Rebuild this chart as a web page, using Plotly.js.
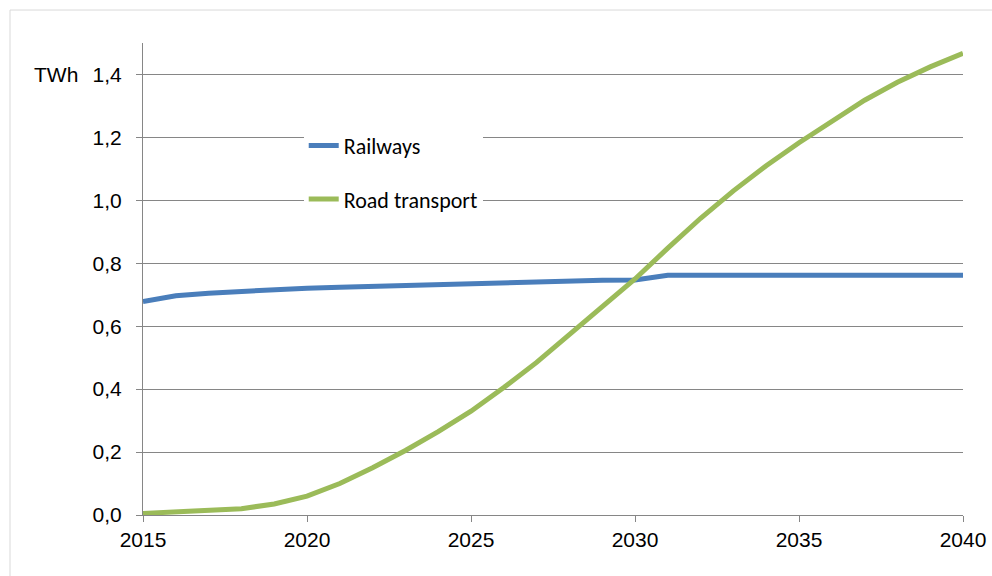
<!DOCTYPE html>
<html>
<head>
<meta charset="utf-8">
<script src="https://cdn.plot.ly/plotly-3.0.1.min.js"></script>
<style>
html,body{margin:0;padding:0;background:#fff;overflow:hidden;}
#chart{width:992px;height:576px;}
</style>
</head>
<body>
<div id="chart"></div>
<script>
const years = [2015,2016,2017,2018,2019,2020,2021,2022,2023,2024,2025,2026,2027,2028,2029,2030,2031,2032,2033,2034,2035,2036,2037,2038,2039,2040];
const railways = [0.678,0.697,0.705,0.711,0.717,0.721,0.724,0.727,0.731,0.734,0.737,0.740,0.742,0.744,0.746,0.747,0.762,0.762,0.762,0.762,0.762,0.762,0.762,0.762,0.762,0.762];
const roadTransport = [0.005,0.010,0.013,0.020,0.035,0.060,0.100,0.150,0.205,0.265,0.330,0.405,0.485,0.572,0.660,0.750,0.848,0.943,1.030,1.110,1.183,1.252,1.318,1.375,1.424,1.467];
const xTicks = [2015,2020,2025,2030,2035,2040];
const yTicks = [0,0.2,0.4,0.6,0.8,1.0,1.2,1.4];
const yTickLabels = ['0,0','0,2','0,4','0,6','0,8','1,0','1,2','1,4'];
const seriesNames = ['Railways','Road transport'];
const seriesColors = ['#4a7ebb','#9bbb59'];
const unitLabel = 'TWh';

const traces = [
  {x: years, y: railways, name: seriesNames[0], type:'scatter', mode:'lines',
   line:{color:seriesColors[0], width:5}, legendgroup:'a'},
  {x: years, y: roadTransport, name: seriesNames[1], type:'scatter', mode:'lines',
   line:{color:seriesColors[1], width:5}, legendgroup:'b'}
];

const gridC = '#868686';
const layout = {
  width:992, height:576,
  margin:{l:143, r:29, t:42.5, b:61, pad:0},
  paper_bgcolor:'#ffffff', plot_bgcolor:'#ffffff',
  showlegend:true,
  legend:{x:0.196, xanchor:'left', y:0.827, yanchor:'top', bgcolor:'#ffffff',
    traceorder:'grouped', tracegroupgap:22, entrywidth:230, entrywidthmode:'pixels',
    font:{family:'Carlito, Calibri, Lato, sans-serif', size:22, color:'#000'}},
  xaxis:{range:[2015,2040], tickvals:xTicks, ticktext:xTicks.map(String),
    showgrid:false, zeroline:false, showline:true, linecolor:gridC, linewidth:1,
    ticks:'outside', ticklen:6, tickcolor:gridC, ticklabelstandoff:0,
    tickfont:{family:'Liberation Sans, Arial, sans-serif', size:21, color:'#000'}, fixedrange:true},
  yaxis:{range:[0,1.5], tickvals:yTicks, ticktext:yTickLabels,
    showgrid:true, gridcolor:gridC, gridwidth:1, zeroline:false,
    showline:true, linecolor:gridC, linewidth:1,
    ticks:'outside', ticklen:6, tickcolor:gridC, ticklabelstandoff:10,
    tickfont:{family:'Liberation Sans, Arial, sans-serif', size:21, color:'#000'}, fixedrange:true},
  annotations:[{text:unitLabel, xref:'paper', yref:'y', x:-0.135, y:1.4, xanchor:'left', yanchor:'middle',
    showarrow:false, font:{family:'Liberation Sans, Arial, sans-serif', size:21, color:'#000'}}],
  shapes:[{type:'rect', xref:'paper', yref:'paper',
    x0:(10-143)/820, x1:(1010-143)/820, y0:(515-590)/472.5, y1:(515-9.5)/472.5,
    line:{color:'#d9d9d9', width:1}, fillcolor:'rgba(0,0,0,0)', layer:'below'}]
};
Plotly.newPlot('chart', traces, layout, {displayModeBar:false, staticPlot:true});
</script>
</body>
</html>
